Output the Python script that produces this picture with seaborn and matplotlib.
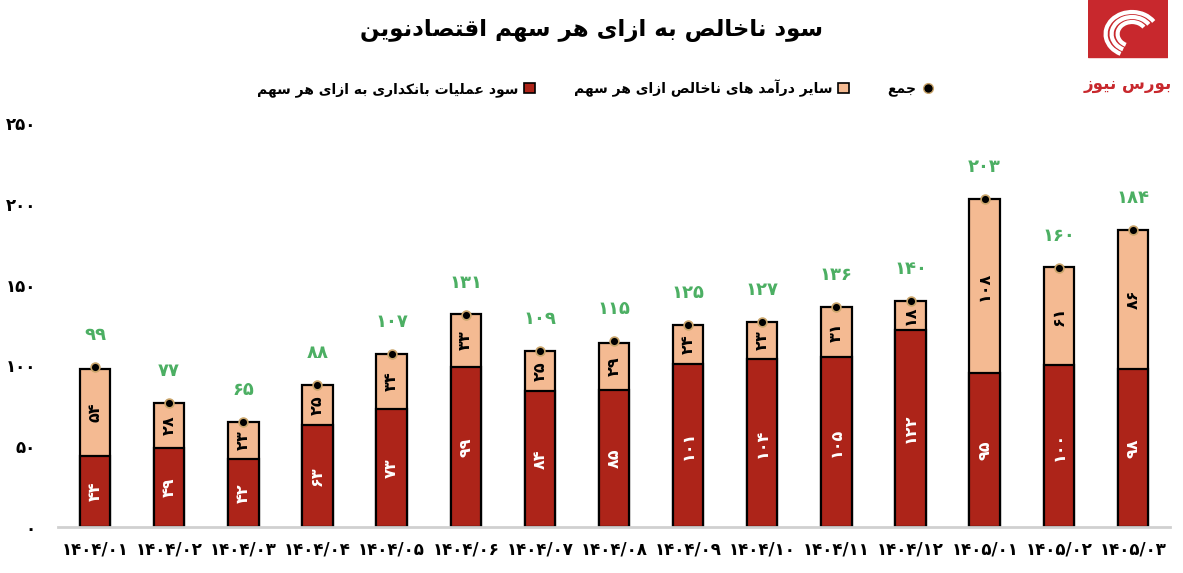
import numpy as np
import pandas as pd
import seaborn as sns
import matplotlib.pyplot as plt
from matplotlib.lines import Line2D
from matplotlib.patches import Patch, Rectangle, Arc

# ---- data ----
periods = ["۱۴۰۴/۰۱", "۱۴۰۴/۰۲", "۱۴۰۴/۰۳", "۱۴۰۴/۰۴", "۱۴۰۴/۰۵", "۱۴۰۴/۰۶", "۱۴۰۴/۰۷",
           "۱۴۰۴/۰۸", "۱۴۰۴/۰۹", "۱۴۰۴/۱۰", "۱۴۰۴/۱۱", "۱۴۰۴/۱۲", "۱۴۰۵/۰۱", "۱۴۰۵/۰۲", "۱۴۰۵/۰۳"]
banking_profit = [44, 49, 42, 63, 73, 99, 84, 85, 101, 104, 105, 122, 95, 100, 98]
other_income = [54, 28, 23, 25, 34, 33, 25, 29, 24, 23, 31, 18, 108, 61, 86]
totals = [99, 77, 65, 88, 107, 131, 109, 115, 125, 127, 136, 140, 203, 160, 184]
y_ticks = [0, 50, 100, 150, 200, 250]

title_txt = "سود ناخالص به ازای هر سهم اقتصادنوین"
lbl_bank = "سود عملیات بانکداری به ازای هر سهم"
lbl_other = "سایر درآمد های ناخالص ازای هر سهم"
lbl_total = "جمع"
brand = "بورس نیوز"

# ---- minimal persian shaping (matplotlib has no bidi / joining) ----
FORMS = {
    'ا': 'ﺍﺎ', 'آ': 'ﺁﺂ', 'د': 'ﺩﺪ', 'ذ': 'ﺫﺬ', 'ر': 'ﺭﺮ', 'ز': 'ﺯﺰ', 'ژ': 'ﮊﮋ', 'و': 'ﻭﻮ',
    'ب': 'ﺏﺐﺑﺒ', 'پ': 'ﭖﭗﭘﭙ', 'ت': 'ﺕﺖﺗﺘ', 'ث': 'ﺙﺚﺛﺜ', 'ج': 'ﺝﺞﺟﺠ', 'چ': 'ﭺﭻﭼﭽ',
    'ح': 'ﺡﺢﺣﺤ', 'خ': 'ﺥﺦﺧﺨ', 'س': 'ﺱﺲﺳﺴ', 'ش': 'ﺵﺶﺷﺸ', 'ص': 'ﺹﺺﺻﺼ', 'ض': 'ﺽﺾﺿﻀ',
    'ط': 'ﻁﻂﻃﻄ', 'ظ': 'ﻅﻆﻇﻈ', 'ع': 'ﻉﻊﻋﻌ', 'غ': 'ﻍﻎﻏﻐ', 'ف': 'ﻑﻒﻓﻔ', 'ق': 'ﻕﻖﻗﻘ',
    'ک': 'ﮎﮏﮐﮑ', 'گ': 'ﮒﮓﮔﮕ', 'ل': 'ﻝﻞﻟﻠ', 'م': 'ﻡﻢﻣﻤ', 'ن': 'ﻥﻦﻧﻨ', 'ه': 'ﻩﻪﻫﻬ',
    'ی': 'ﯼﯽﯾﯿ',
}


def fa(text):
    out = []
    for i, ch in enumerate(text):
        if ch not in FORMS:
            out.append(ch)
            continue
        f = FORMS[ch]
        prev = text[i - 1] if i > 0 else ''
        nxt = text[i + 1] if i + 1 < len(text) else ''
        jp = prev in FORMS and len(FORMS[prev]) == 4
        jn = nxt in FORMS and len(f) == 4
        if jp and jn:
            out.append(f[3])
        elif jp:
            out.append(f[1])
        elif jn:
            out.append(f[2])
        else:
            out.append(f[0])
    return ''.join(out)[::-1]


def fa_num(n):
    return str(n).translate(str.maketrans("0123456789", "۰۱۲۳۴۵۶۷۸۹"))


df = pd.DataFrame({"period": periods, "bank": banking_profit, "other": other_income, "total": totals})
df["stack"] = df["bank"] + df["other"]

RED = "#ad2419"
PEACH = "#f4ba92"
GREEN = "#4caf63"

sns.set_style("white")
plt.rcParams['font.family'] = ['DejaVu Sans']
plt.rcParams['text.color'] = 'black'
plt.rcParams['xtick.color'] = 'black'
plt.rcParams['ytick.color'] = 'black'

fig = plt.figure(figsize=(11.83, 5.73), dpi=100)
ax = fig.add_axes([58 / 1183, 1 - 527 / 573, 1112 / 1183, 404 / 573])

sns.barplot(data=df, x="period", y="stack", color=PEACH, saturation=1, width=0.41,
            edgecolor="black", linewidth=1.6, ax=ax)
sns.barplot(data=df, x="period", y="bank", color=RED, saturation=1, width=0.41,
            edgecolor="black", linewidth=1.6, ax=ax)
sns.scatterplot(x=np.arange(len(df)), y=df["total"], color="black", s=40,
                edgecolor="#c9a46a", linewidth=1.2, zorder=5, ax=ax)

for i, r in df.iterrows():
    ax.text(i, r["bank"] / 2, fa_num(r["bank"]), rotation=90, ha="center", va="center",
            color="white", fontsize=11.5, fontweight="bold")
    ax.text(i, r["bank"] + r["other"] / 2, fa_num(r["other"]), rotation=90, ha="center",
            va="center", color="black", fontsize=11.5, fontweight="bold")
    ax.annotate(fa_num(r["total"]), (i, r["total"]), xytext=(0, 23), textcoords="offset points",
                ha="center", va="center", color=GREEN, fontsize=13, fontweight="bold")

ax.set_xlim(-0.5, 14.5)
ax.set_ylim(0, 250)
ax.set_yticks(y_ticks)
ax.set_yticklabels([fa_num(v) for v in y_ticks], fontsize=12, fontweight="bold")
ax.set_xticks(range(len(df)))
ax.set_xticklabels(periods, fontsize=12, fontweight="bold")
ax.tick_params(axis="both", length=0)
ax.tick_params(axis="y", pad=16)
ax.tick_params(axis="x", pad=10)
ax.set_xlabel("")
ax.set_ylabel("")
sns.despine(ax=ax, left=True)
ax.spines["bottom"].set_color("#d0d0d0")
ax.spines["bottom"].set_linewidth(2)

fig.text(0.5, 1 - 30 / 573, fa(title_txt), ha="center", va="center", fontsize=16.5,
         fontweight="bold", color="black")

handles = [
    Patch(facecolor=RED, edgecolor="black", linewidth=1.2),
    Patch(facecolor=PEACH, edgecolor="black", linewidth=1.2),
    Line2D([], [], marker="o", color="none", markerfacecolor="black",
           markeredgecolor="#c9a46a", markersize=7),
]
fig.legend(handles, [fa(lbl_bank), fa(lbl_other), fa(lbl_total)], loc="center",
           bbox_to_anchor=(595 / 1183, 1 - 88 / 573), ncol=3, frameon=False, markerfirst=False,
           prop={"size": 10, "weight": "bold"}, handlelength=0.8, handleheight=0.8,
           columnspacing=2.8, handletextpad=0.4)

# logo block top right
logo = fig.add_axes([1088 / 1183, 1 - 110 / 573, 80 / 1183, 110 / 573])
logo.set_xlim(0, 80)
logo.set_ylim(110, 0)
logo.axis("off")
logo.add_patch(Rectangle((0, 0), 80, 57, color="#c8282d"))
for rad in [44, 34, 24]:
    logo.add_patch(Arc((44, 34), rad * 1.2, rad, theta1=120, theta2=330, color="white", lw=3))
logo.text(40, 84, fa(brand), ha="center", va="center", color="#c8282d", fontsize=12,
          fontweight="bold")

fig.savefig("out.png", dpi=100)
